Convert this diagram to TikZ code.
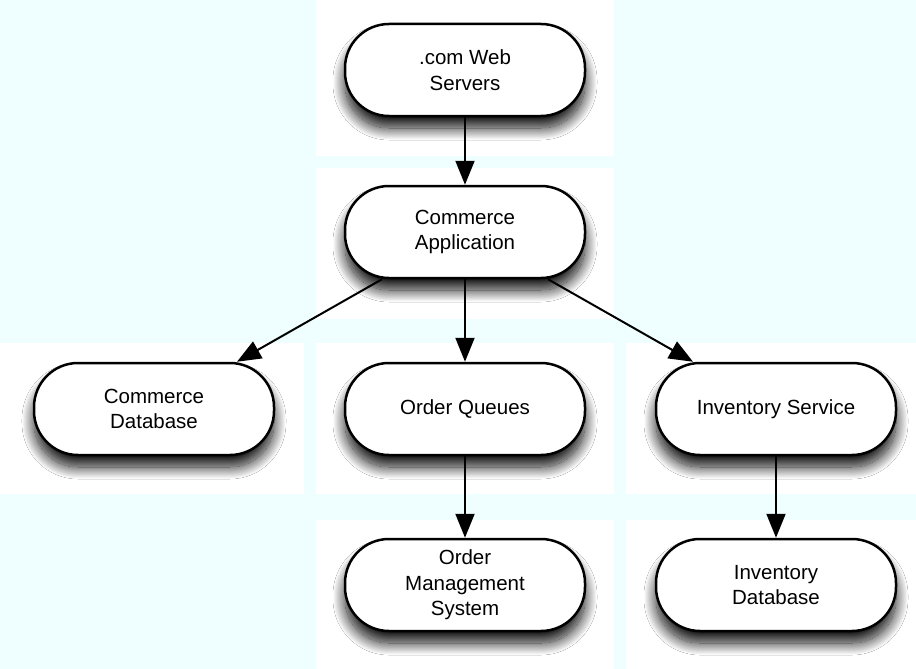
\documentclass[tikz,border=0pt]{standalone}
\usepackage{fontspec}
\setmainfont{Liberation Sans}
\usepackage{xcolor}
\usetikzlibrary{arrows.meta, shadows.blur}

\definecolor{panelcyan}{RGB}{239,255,255}

\begin{document}
\begin{tikzpicture}[x=1pt, y=-1pt,
  svc/.style={rectangle, rounded corners=44pt, draw=black, line width=2.5pt,
    fill=white, minimum width=240pt, minimum height=92pt, align=center,
    inner sep=0pt, font=\fontsize{20.5}{25.6}\selectfont,
    blur shadow={shadow xshift=0pt, shadow yshift=-12pt,
      shadow blur radius=12pt, shadow blur steps=24, shadow opacity=95}},
  cell/.style={fill=white},
  arr/.style={-{Triangle[length=24pt, width=19pt]}, line width=2pt}
]

%% Background panels
\fill[panelcyan] (0,0) rectangle (916,669);
\useasboundingbox (0,0) rectangle (916,669);
\fill[cell] (316,0)   rectangle (614,156);
\fill[cell] (316,168) rectangle (614,319);
\fill[cell] (0,343)   rectangle (304,494);
\fill[cell] (316,343) rectangle (614,494);
\fill[cell] (626,343) rectangle (916,494);
\fill[cell] (316,520) rectangle (614,669);
\fill[cell] (626,520) rectangle (916,669);

%% Row 1 and 2
\node[svc] (web) at (465,70)  {.com Web\\Servers};
\node[svc] (app) at (465,232) {Commerce\\Application};

%% Row 3
\node[svc] (cdb)    at (154,409) {Commerce\\Database};
\node[svc] (queues) at (465,409) {Order Queues};
\node[svc] (invsvc) at (776,409) {Inventory Service};

%% Row 4
\node[svc] (oms)   at (465,585) {Order\\Management\\System};
\node[svc] (invdb) at (776,585) {Inventory\\Database};

%% Connectors
\draw[arr] (web)    -- (app);
\draw[arr] (app)    -- (cdb);
\draw[arr] (app)    -- (queues);
\draw[arr] (app)    -- (invsvc);
\draw[arr] (queues) -- (oms);
\draw[arr] (invsvc) -- (invdb);

\end{tikzpicture}
\end{document}
